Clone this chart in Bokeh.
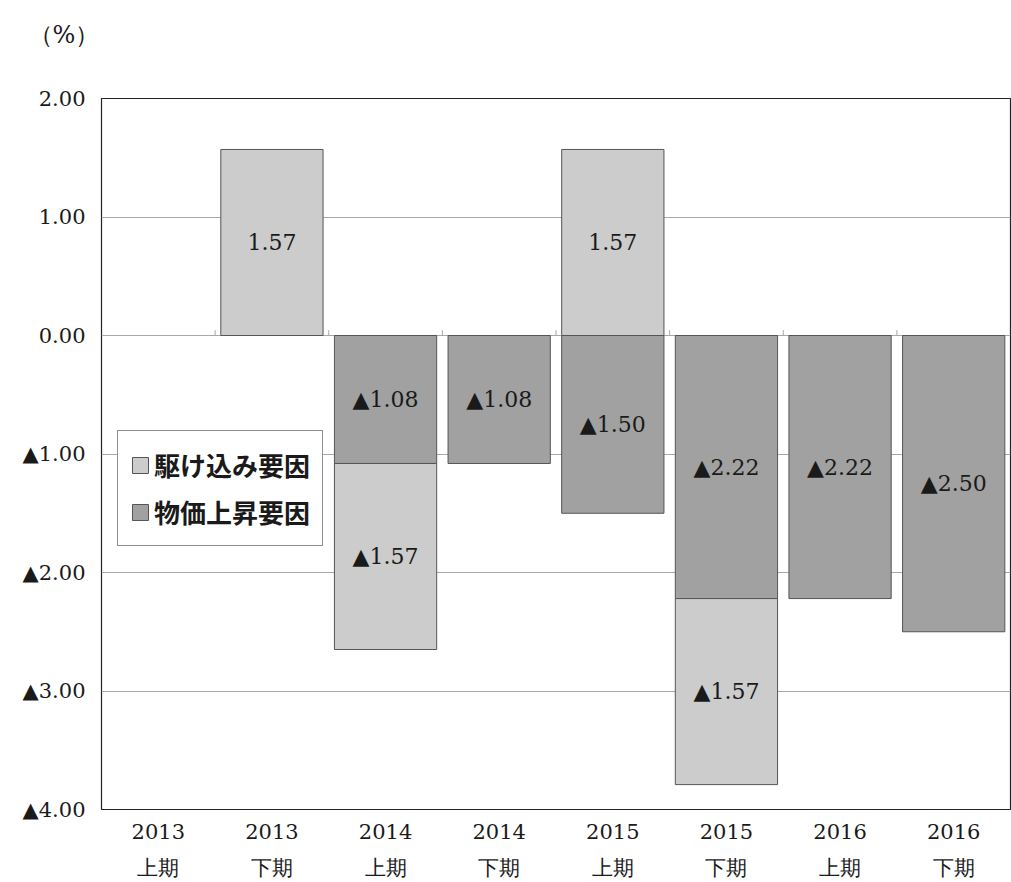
from bokeh.plotting import figure
from bokeh.models import (ColumnDataSource, FactorRange, Range1d, FixedTicker,
                          CustomJSTickFormatter, Legend, LegendItem)
from bokeh.core.properties import value
from bokeh.embed import file_html
from bokeh.resources import INLINE

categories = ["2013\n上期", "2013\n下期", "2014\n上期", "2014\n下期",
              "2015\n上期", "2015\n下期", "2016\n上期", "2016\n下期"]
rush = [0, 1.57, -1.57, 0, 1.57, -1.57, 0, 0]          # 駆け込み要因
price = [0, 0, -1.08, -1.08, -1.50, -2.22, -2.22, -2.50]  # 物価上昇要因
y_ticks = [-4, -3, -2, -1, 0, 1, 2]
series_names = ["駆け込み要因", "物価上昇要因"]
unit_text = "（%）"

LIGHT = "#cbcccb"
DARK = "#a0a1a0"
EDGE = "#555555"
TXT = "#1a1a1a"
SERIF = "DejaVu Serif"

def fmt(v):
    return ("▲" if v < 0 else "") + f"{abs(v):.2f}"

# dark (price) bars
d_x, d_top, d_bot, d_lab, d_mid = [], [], [], [], []
for c, p in zip(categories, price):
    if p != 0:
        d_x.append(c); d_top.append(0); d_bot.append(p)
        d_lab.append(fmt(p)); d_mid.append(p / 2)
# light (rush) bars
l_x, l_top, l_bot, l_lab, l_mid = [], [], [], [], []
for c, r, p in zip(categories, rush, price):
    if r > 0:
        l_x.append(c); l_bot.append(0); l_top.append(r)
        l_lab.append(fmt(r)); l_mid.append(r / 2)
    elif r < 0:
        l_x.append(c); l_top.append(p); l_bot.append(p + r)
        l_lab.append(fmt(r)); l_mid.append(p + r / 2)

dark_src = ColumnDataSource(dict(x=d_x, top=d_top, bottom=d_bot, lab=d_lab, mid=d_mid))
light_src = ColumnDataSource(dict(x=l_x, top=l_top, bottom=l_bot, lab=l_lab, mid=l_mid))

p = figure(width=1011, height=882, x_range=FactorRange(*categories),
           y_range=Range1d(-4, 2), output_backend="svg", toolbar_location=None,
           min_border_left=101, min_border_right=1, min_border_top=98,
           min_border_bottom=72, title=unit_text + "\n ")
p.background_fill_color = "white"
p.border_fill_color = "white"
p.outline_line_color = "#222222"
p.outline_line_width = 1.2

p.title.align = "left"
p.title.offset = -73
p.title.standoff = 32
p.title.text_font = SERIF
p.title.text_font_size = "24px"
p.title.text_font_style = "normal"
p.title.text_color = TXT
p.title.text_line_height = 1.2

p.xgrid.grid_line_color = None
p.ygrid.grid_line_color = "#a8a8a8"
p.ygrid.grid_line_width = 1
p.yaxis.ticker = FixedTicker(ticks=y_ticks)
p.yaxis.formatter = CustomJSTickFormatter(
    code="return (tick < 0 ? '▲' : '') + Math.abs(tick).toFixed(2);")

for ax in (p.xaxis[0], p.yaxis[0]):
    ax.axis_line_color = None
    ax.major_tick_line_color = None
    ax.minor_tick_line_color = None
    ax.major_label_text_font = SERIF
    ax.major_label_text_font_size = "21px"
    ax.major_label_text_color = TXT
p.yaxis.major_label_standoff = 10
p.xaxis.major_label_standoff = 4
p.xaxis.major_label_text_line_height = 1.5

# small category boundary ticks on the zero line
bounds = list(range(1, len(categories)))
p.segment(x0=bounds, x1=bounds, y0=[0] * len(bounds), y1=[0.045] * len(bounds),
          line_color="#a8a8a8", line_width=1)

r_dark = p.vbar(x="x", top="top", bottom="bottom", width=0.9, source=dark_src,
                fill_color=DARK, line_color=EDGE, line_width=1)
r_light = p.vbar(x="x", top="top", bottom="bottom", width=0.9, source=light_src,
                 fill_color=LIGHT, line_color=EDGE, line_width=1)

for src in (dark_src, light_src):
    p.text(x="x", y="mid", text="lab", source=src, text_font=value(SERIF),
           text_font_size="22px", text_color=TXT, text_align="center",
           text_baseline="middle")

legend = Legend(items=[LegendItem(label=series_names[0], renderers=[r_light]),
                       LegendItem(label=series_names[1], renderers=[r_dark])],
                location=(16, 263), orientation="vertical")
legend.border_line_color = "#222222"
legend.border_line_width = 1.2
legend.background_fill_color = "white"
legend.background_fill_alpha = 1
legend.label_text_font = "Noto Sans CJK JP"
legend.label_text_font_style = "bold"
legend.label_text_font_size = "26px"
legend.label_text_color = TXT
legend.glyph_width = 20
legend.glyph_height = 20
legend.label_standoff = 4
legend.padding = 12
legend.spacing = 4
legend.label_height = 43
legend.margin = 0
p.add_layout(legend, "center")

open("out.html", "w").write(file_html(p, INLINE))
